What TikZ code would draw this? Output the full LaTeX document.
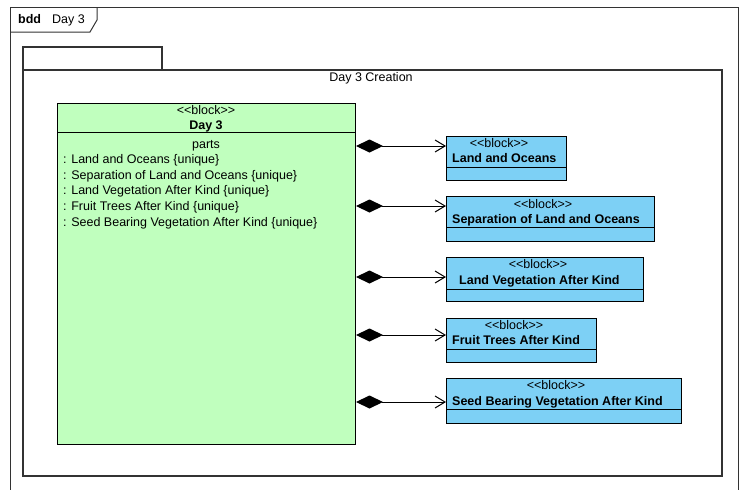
\documentclass[tikz,border=0pt]{standalone}
\usepackage{fontspec}
\newfontfamily\uifont{Liberation Sans}
\usetikzlibrary{arrows.meta,calc}
\definecolor{blkgreen}{RGB}{192,255,190}
\definecolor{blkblue}{RGB}{125,208,245}
\begin{document}
\begin{tikzpicture}[x=1pt,y=-1pt,
  font=\uifont\fontsize{12.5}{14}\selectfont,
  frameline/.style={draw=black!80, line width=1pt},
  greenblock/.style={draw=black, line width=1pt, fill=blkgreen, rectangle, inner sep=0pt, anchor=north west},
  blueblock/.style={draw=black, line width=1pt, fill=blkblue, rectangle, inner sep=0pt, anchor=north west},
  txt/.style={inner sep=0pt, anchor=mid, yshift=-1.5pt},
  ltxt/.style={inner sep=0pt, anchor=mid west, yshift=-1.5pt},
  comp/.style={draw=black, line width=1pt, {Diamond[length=27pt,width=13pt]}-{Straight Barb[length=10pt,width=12pt,line width=1pt]}}
]
\useasboundingbox (0,0) rectangle (745,490);
% outer bdd frame
\draw[frameline] (10,495) -- (10,7) -- (738,7) -- (738,495);
\draw[frameline] (10,32) -- (90,32) -- (97,20) -- (97,7);
\node[ltxt] (bdd) at (18,20) {\bfseries bdd};
\node[ltxt] (bddname) at (52,20) {Day 3};
% inner frame
\draw[frameline, line width=1.2pt] (23,70) rectangle (162,47);
\draw[frameline, line width=1.2pt] (23,70) rectangle (722,476);
\node[txt] (ctitle) at (371,78) {Day 3 Creation};
% main block
\node[greenblock, minimum width=298pt, minimum height=341pt] (g) at (57,103) {};
\draw[line width=1pt] (g.west |- 0,132) -- (g.east |- 0,132);
\node[txt] (gst) at (206,111) {<<block>>};
\node[txt] (gname) at (206,126) {\bfseries Day 3};
\node[txt] (gparts) at (206,145) {parts};
\node[ltxt] (p1) at (63,160) {: Land and Oceans \{unique\}};
\node[ltxt] (p2) at (63,176) {: Separation of Land and Oceans \{unique\}};
\node[ltxt] (p3) at (63,191) {: Land Vegetation After Kind \{unique\}};
\node[ltxt] (p4) at (63,207) {: Fruit Trees After Kind \{unique\}};
\node[ltxt] (p5) at (63,223) {: Seed Bearing Vegetation After Kind \{unique\}};
% part blocks
\node[blueblock, minimum width=120pt, minimum height=44pt] (b1) at (446,136) {};
\draw[line width=1pt] (b1.west |- 0,167) -- (b1.east |- 0,167);
\node[txt] (b1s) at (499,144) {<<block>>};
\node[ltxt] (b1n) at (452,159) {\bfseries Land and Oceans};

\node[blueblock, minimum width=208pt, minimum height=45pt] (b2) at (446,196) {};
\draw[line width=1pt] (b2.west |- 0,227) -- (b2.east |- 0,227);
\node[txt] (b2s) at (543,205) {<<block>>};
\node[ltxt] (b2n) at (452,220) {\bfseries Separation of Land and Oceans};

\node[blueblock, minimum width=197pt, minimum height=44pt] (b3) at (446,257) {};
\draw[line width=1pt] (b3.west |- 0,289) -- (b3.east |- 0,289);
\node[txt] (b3s) at (538,265) {<<block>>};
\node[ltxt] (b3n) at (459,281) {\bfseries Land Vegetation After Kind};

\node[blueblock, minimum width=150pt, minimum height=44pt] (b4) at (446,318) {};
\draw[line width=1pt] (b4.west |- 0,349) -- (b4.east |- 0,349);
\node[txt] (b4s) at (514,326) {<<block>>};
\node[ltxt] (b4n) at (452,341) {\bfseries Fruit Trees After Kind};

\node[blueblock, minimum width=235pt, minimum height=45pt] (b5) at (446,378) {};
\draw[line width=1pt] (b5.west |- 0,409) -- (b5.east |- 0,409);
\node[txt] (b5s) at (556,386) {<<block>>};
\node[ltxt] (b5n) at (452,402) {\bfseries Seed Bearing Vegetation After Kind};
% composition connectors
\coordinate (t1) at (b1.west |- 0,146);
\coordinate (t2) at (b2.west |- 0,206);
\coordinate (t3) at (b3.west |- 0,277);
\coordinate (t4) at (b4.west |- 0,335);
\coordinate (t5) at (b5.west |- 0,402);
\draw[comp] (g.east |- t1) -- (t1);
\draw[comp] (g.east |- t2) -- (t2);
\draw[comp] (g.east |- t3) -- (t3);
\draw[comp] (g.east |- t4) -- (t4);
\draw[comp] (g.east |- t5) -- (t5);
\end{tikzpicture}
\end{document}
